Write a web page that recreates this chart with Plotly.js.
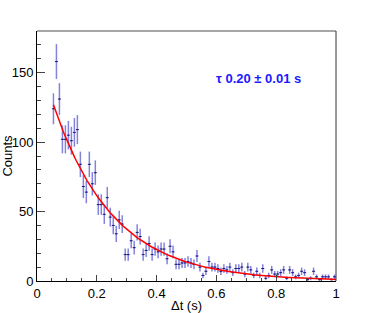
<!DOCTYPE html>
<html>
<head>
<meta charset="utf-8">
<script src="https://cdn.plot.ly/plotly-3.0.1.min.js"></script>
<style>html,body{margin:0;padding:0;background:#fff;}#plot{width:374px;height:313px;}</style>
</head>
<body>
<div id="plot"></div>
<script>
// Bin centres (s), bin width 0.01 s
const binCenters = [0.055,0.065,0.075,0.085,0.095,0.105,0.115,0.125,0.135,0.145,
  0.155,0.165,0.175,0.185,0.195,0.205,0.215,0.225,0.235,0.245,
  0.255,0.265,0.275,0.285,0.295,0.305,0.315,0.325,0.335,0.345,
  0.355,0.365,0.375,0.385,0.395,0.405,0.415,0.425,0.435,0.445,
  0.455,0.465,0.475,0.485,0.495,0.505,0.515,0.525,0.535,0.545,
  0.555,0.565,0.575,0.585,0.595,0.605,0.615,0.625,0.635,0.645,
  0.655,0.665,0.675,0.685,0.695,0.705,0.715,0.725,0.735,0.745,
  0.755,0.765,0.775,0.785,0.795,0.805,0.815,0.825,0.835,0.845,
  0.855,0.865,0.875,0.885,0.895,0.905,0.915,0.925,0.935,0.945,
  0.955,0.965,0.975,0.985,0.995];
const counts = [124,158,131,102,102,105,101,107,109,84,
  68,64,84,70,78,55,55,48,60,46,
  40,34,44,41,19,19,29,24,35,32,
  19,22,27,19,23,21,23,23,16,25,
  21,12,12,13,13,14,13,12,18,10,
  4,7,14,10,10,9,7,9,8,10,
  6,9,9,10,5,10,8,4,7,4,
  9,2,4,8,5,5,6,8,2,8,
  6,3,4,7,6,1,2,7,3,1,
  3,3,3,1,3];
const halfBin = 0.005;
// Exponential fit parameters
const fitAmplitude = 167;
const fitTau = 0.20;
const fitTauErr = 0.01;
const fitRange = [0.055, 1.0];

const fitX = [], fitY = [];
for (let i = 0; i <= 200; i++) {
  const t = fitRange[0] + (fitRange[1] - fitRange[0]) * i / 200;
  fitX.push(t);
  fitY.push(fitAmplitude * Math.exp(-t / fitTau));
}

const data = [
  {
    x: binCenters, y: counts, type: 'scatter', mode: 'markers',
    marker: {size: 1, color: '#1a1a80'},
    error_y: {type: 'sqrt', color: 'rgba(90,90,210,0.75)', thickness: 1.5, width: 0},
    error_x: {type: 'constant', value: halfBin, color: '#1a1a80', thickness: 1, width: 0},
    hoverinfo: 'x+y', showlegend: false
  },
  {
    x: fitX, y: fitY, type: 'scatter', mode: 'lines',
    line: {color: '#ff0000', width: 1.5}, showlegend: false, hoverinfo: 'skip'
  }
];

const font = {family: '"Liberation Sans", Arial, sans-serif', size: 13, color: '#000'};
const layout = {
  width: 374, height: 313,
  margin: {l: 37, r: 38, t: 31, b: 32},
  paper_bgcolor: '#fff', plot_bgcolor: '#fff',
  font: font,
  showlegend: false,
  xaxis: {
    range: [0, 1], tickvals: [0, 0.2, 0.4, 0.6, 0.8, 1], ticktext: ['0','0.2','0.4','0.6','0.8','1'],
    ticks: 'inside', ticklen: 6, tickcolor: '#444', tickwidth: 1,
    minor: {dtick: 0.05, tick0: 0, ticks: 'inside', ticklen: 3, tickcolor: '#444'},
    showline: true, linecolor: '#000', linewidth: 1, showgrid: false, zeroline: false,
    tickfont: font,
    title: {text: 'Δt (s)', font: font, standoff: 2}
  },
  yaxis: {
    range: [0, 180], tickvals: [0, 50, 100, 150], ticktext: ['0','50','100','150'],
    ticks: 'inside', ticklen: 8, tickcolor: '#444', tickwidth: 1,
    minor: {dtick: 10, tick0: 0, ticks: 'inside', ticklen: 4, tickcolor: '#444'},
    showline: true, linecolor: '#000', linewidth: 1, showgrid: false, zeroline: false,
    tickfont: font,
    title: {text: 'Counts', font: font, standoff: 2}
  },
  shapes: [
    {type: 'line', xref: 'paper', yref: 'paper', x0: 0, x1: 1, y0: 1, y1: 1, line: {color: '#888', width: 1.5}},
    {type: 'line', xref: 'paper', yref: 'paper', x0: 1, x1: 1, y0: 0, y1: 1, line: {color: '#333', width: 1}}
  ],
  annotations: [
    {
      xref: 'paper', yref: 'paper', x: 0.74, y: 0.81, xanchor: 'center', yanchor: 'middle',
      text: '<b>τ ' + fitTau.toFixed(2) + ' ± ' + fitTauErr.toFixed(2) + ' s</b>',
      showarrow: false,
      font: {family: '"Liberation Sans", Arial, sans-serif', size: 13, color: '#1a1aff'}
    }
  ]
};

Plotly.newPlot('plot', data, layout, {displayModeBar: false, staticPlot: true});
</script>
</body>
</html>
